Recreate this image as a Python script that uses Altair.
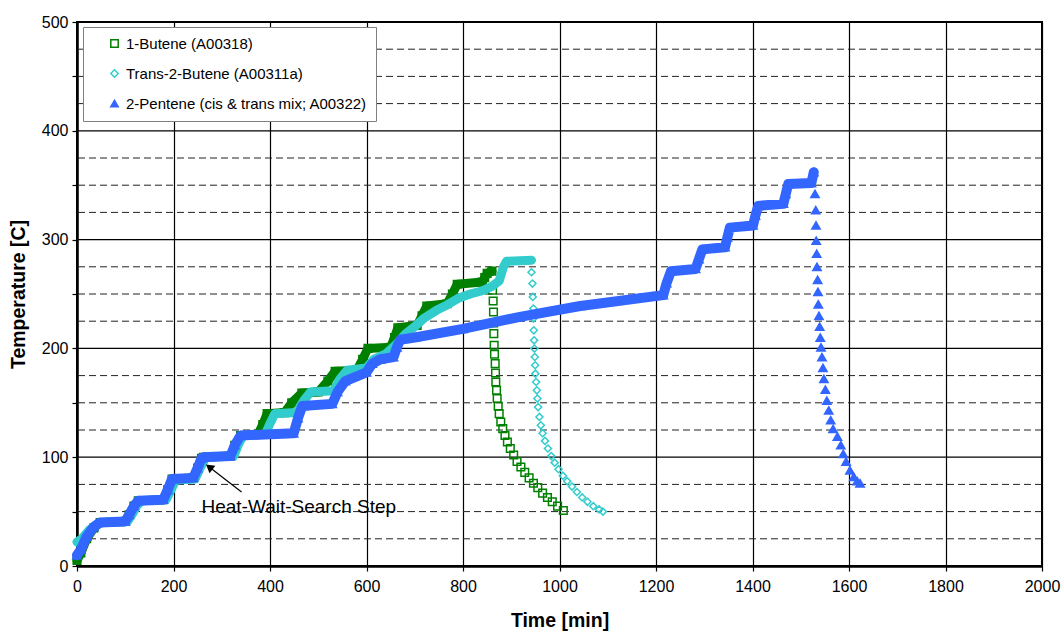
import altair as alt
import pandas as pd

# ---------------- data ----------------
series_names = ["1-Butene (A00318)", "Trans-2-Butene (A00311a)", "2-Pentene (cis & trans mix; A00322)"]
series_colors = ["#008000", "#33CCCC", "#3366FF"]
series_fills = ["transparent", "transparent", "#3366FF"]
series_shapes = ["square", "diamond", "triangle-up"]

# 1-Butene: heating staircase and cooling tail
but_heat_t = [0, 8, 20, 35, 48, 100, 108, 118, 127, 179, 188, 197, 241, 250, 258, 262, 318, 327, 339, 375, 385,
              394, 430, 445, 466, 500, 520, 535, 580, 592, 603, 650, 658, 665, 705, 715, 725, 767, 778, 788,
              840, 845, 850, 860]
but_heat_T = [5, 12, 25, 35, 40, 41, 47, 55, 60, 61, 70, 80, 81, 90, 99, 100, 101, 111, 120, 121, 130,
              140, 141, 150, 159, 160, 170, 179, 180, 190, 200, 201, 210, 219, 221, 230, 239, 241, 250, 259,
              261, 265, 269, 271]
but_cool_t = [861.2, 862.5, 863.2, 863.5, 863.9, 864.6, 865.3, 866.7, 867.4, 868, 869.5, 870.8, 872.9, 875,
              878.3, 882.4, 887, 892, 898, 905, 912, 920, 928, 937, 946, 955, 965, 975, 985, 996, 1008]
but_cool_T = [253.4, 243.6, 233.5, 223.5, 213.6, 202.9, 194.6, 186, 177.4, 169.1, 161.5, 153.9, 146.8, 140,
              132.4, 126.3, 120, 114, 108, 102, 96, 91, 86, 81, 76, 72, 67, 63, 59, 55, 51]

# Trans-2-Butene
tr_heat_t = [0, 10, 25, 40, 55, 105, 115, 125, 135, 185, 195, 205, 245, 255, 265, 270, 325, 335, 345, 390, 400,
             410, 455, 470, 484, 532, 545, 560, 600, 615, 640, 660, 680, 700, 720, 745, 767, 790, 815, 840,
             860, 875, 884, 890, 942]
tr_heat_T = [22, 25, 33, 38, 40, 41, 48, 56, 60, 61, 70, 79, 80, 90, 98, 100, 101, 112, 120, 121, 131,
             140, 141, 152, 160, 161, 172, 180, 182, 190, 195, 203, 213, 220, 228, 235, 240, 246, 250, 253,
             257, 262, 275, 280, 281]
tr_cool_t = [942, 943.9, 944.6, 945.9, 945.9, 946.7, 947.4, 948, 948.8, 949.5, 950, 951.5, 953, 954.2, 955.7,
             958.4, 961.3, 965, 970, 976, 983, 990, 998, 1007, 1016, 1026, 1036, 1047, 1058, 1070, 1082, 1090]
tr_cool_T = [270, 259.6, 247.3, 236.6, 227.4, 216.6, 207.4, 199.8, 192.1, 184.5, 176.8, 169.1, 161.5, 153.9,
             146.1, 137, 129.3, 122, 115, 108, 101, 95, 89, 83, 78, 73, 68, 63, 59, 55, 52, 50]

# 2-Pentene
pe_heat_t = [0, 8, 20, 35, 48, 100, 108, 118, 127, 179, 188, 197, 241, 250, 258, 262, 318, 327, 339, 449, 458,
             467, 529, 540, 556, 600, 612, 629, 656, 663, 670, 700, 800, 918, 1043, 1215, 1222, 1231, 1282,
             1289, 1296, 1343, 1348, 1353, 1401, 1406, 1412, 1464, 1469, 1474, 1522, 1527]
pe_heat_T = [10, 15, 27, 36, 40, 41, 47, 55, 60, 61, 70, 80, 81, 90, 99, 100, 101, 111, 120, 122, 136,
             147, 149, 160, 170, 178, 186, 190, 192, 201, 208, 210, 218, 229, 239, 249, 260, 271, 273,
             282, 291, 293, 302, 311, 313, 322, 331, 333, 342, 351, 352, 362]
pe_cool_t = [1529.5, 1531, 1531.6, 1532, 1533, 1533.7, 1535, 1535.7, 1536.4, 1537.8, 1539.2, 1540.5, 1542,
             1544, 1546, 1548, 1551, 1554, 1558, 1562, 1567, 1576, 1583, 1588, 1594, 1602, 1610, 1617, 1623]
pe_cool_T = [342, 327, 313, 299, 287, 275, 263, 252, 240.5, 230, 220, 210, 201,
             192, 182, 172, 162, 152, 143, 134, 126, 119, 111, 103, 96, 88, 82, 78, 76]

# gridline / tick values
x_ticks = [0, 200, 400, 600, 800, 1000, 1200, 1400, 1600, 1800, 2000]
y_major = [100, 200, 300, 400]
y_minor = [25, 50, 75, 125, 150, 175, 225, 250, 275, 325, 350, 375, 425, 450, 475]
y_ticks = [0, 25, 50, 75, 100, 125, 150, 175, 200, 225, 250, 275, 300, 325, 350, 375, 400, 425, 450, 475, 500]

# annotation
annot_text = ["Heat-Wait-Search Step"]
annot_pos = [258, 54]          # text anchor (t, T)
arrow_tail = [341, 68]
arrow_head = [274, 91]

# ---------------- build tables ----------------
rows = []
for name, ht, hT, ct, cT in [
    (series_names[0], but_heat_t, but_heat_T, but_cool_t, but_cool_T),
    (series_names[1], tr_heat_t, tr_heat_T, tr_cool_t, tr_cool_T),
    (series_names[2], pe_heat_t, pe_heat_T, pe_cool_t, pe_cool_T),
]:
    for a, b in zip(ht, hT):
        rows.append({"series": name, "phase": "heat", "t": a, "T": b})
    for a, b in zip(ct, cT):
        rows.append({"series": name, "phase": "cool", "t": a, "T": b})
df = pd.DataFrame(rows)

FONT = "Liberation Sans"

x_enc = alt.X("t:Q", scale=alt.Scale(domain=[0, 2000], nice=False, zero=False),
              axis=alt.Axis(values=x_ticks, format="d", title="Time [min]", grid=True, gridColor="#000000",
                            gridWidth=1.2, gridOpacity=1, tickColor="#000000", tickSize=5, tickWidth=1.2,
                            domainColor="#000000", domainWidth=2.5, labelFont=FONT, labelFontSize=16,
                            labelColor="#000000", labelPadding=7, titleFont=FONT, titleFontSize=19.5,
                            titleFontWeight="bold", titleColor="#000000", titlePadding=17, labelFlush=False))
y_enc = alt.Y("T:Q", scale=alt.Scale(domain=[0, 500], nice=False, zero=True),
              axis=alt.Axis(values=y_ticks, format="d", title="Temperature [C]", grid=False,
                            tickColor="#000000", tickSize=5, tickWidth=1.2, domainColor="#000000",
                            domainWidth=2.5, labelExpr="datum.value % 100 == 0 ? datum.label : ''",
                            labelFont=FONT, labelFontSize=16, labelColor="#000000", labelPadding=4,
                            titleFont=FONT, titleFontSize=19.5, titleFontWeight="bold", titleColor="#000000",
                            titlePadding=13, labelFlush=False))

base = alt.Chart(df)

minor = alt.Chart(pd.DataFrame({"T": y_minor})).mark_rule(
    color="#222222", strokeWidth=1, strokeDash=[7, 4]).encode(y=alt.Y("T:Q", scale=alt.Scale(domain=[0, 500])))
major = alt.Chart(pd.DataFrame({"T": y_major})).mark_rule(
    color="#000000", strokeWidth=1.2).encode(y=alt.Y("T:Q", scale=alt.Scale(domain=[0, 500])))

legend = alt.Legend(title=None, orient="none", legendX=6, legendY=5, fillColor="#FFFFFF",
                    strokeColor="#808080", padding=9, symbolOffset=15, labelOffset=4,
                    labelFont=FONT, labelFontSize=15, labelColor="#000000", rowPadding=14,
                    symbolSize=55, symbolStrokeWidth=1.5, labelLimit=400)

stroke_enc = alt.Stroke("series:N", scale=alt.Scale(domain=series_names, range=series_colors), legend=legend)
fill_enc = alt.Fill("series:N", scale=alt.Scale(domain=series_names, range=series_fills), legend=legend)
shape_enc = alt.Shape("series:N", scale=alt.Scale(domain=series_names, range=series_shapes), legend=legend)

layers = [minor, major]
sizes = [58, 50, 70]
widths = [9, 9, 10]
for i, name in enumerate(series_names):
    line = base.transform_filter(
        (alt.datum.series == name) & (alt.datum.phase == "heat")
    ).mark_line(color=series_colors[i], strokeWidth=widths[i], strokeJoin="round", strokeCap="round").encode(
        x=x_enc, y=y_enc, order="t:Q")
    pts = base.transform_filter(alt.datum.series == name).mark_point(
        size=sizes[i], strokeWidth=1.5, opacity=1, fillOpacity=1).encode(
        x=x_enc, y=y_enc, stroke=stroke_enc, fill=fill_enc, shape=shape_enc)
    layers += [line, pts]

arrow_df = pd.DataFrame({"t": [arrow_tail[0]], "T": [arrow_tail[1]], "t2": [arrow_head[0]], "T2": [arrow_head[1]]})
arrow_line = alt.Chart(arrow_df).mark_rule(color="#000000", strokeWidth=1.2).encode(
    x=x_enc, y=y_enc, x2="t2:Q", y2="T2:Q")
arrow_tip = alt.Chart(pd.DataFrame({"t": [arrow_head[0]], "T": [arrow_head[1]]})).mark_point(
    shape="triangle-up", angle=308, size=90, filled=True, color="#000000", opacity=1).encode(x=x_enc, y=y_enc)
annot = alt.Chart(pd.DataFrame({"t": [annot_pos[0]], "T": [annot_pos[1]], "label": annot_text})).mark_text(
    align="left", baseline="middle", font=FONT, fontSize=19, color="#000000").encode(
    x=x_enc, y=y_enc, text="label:N")
layers += [arrow_line, arrow_tip, annot]

chart = alt.layer(*layers).properties(
    width=965, height=544, autosize="none",
    padding={"left": 77, "top": 22, "right": 21, "bottom": 66},
    background="#FFFFFF"
).configure_view(stroke="#000000", strokeWidth=2)

chart.save("out.html", embed_options={"renderer": "svg", "actions": False})
